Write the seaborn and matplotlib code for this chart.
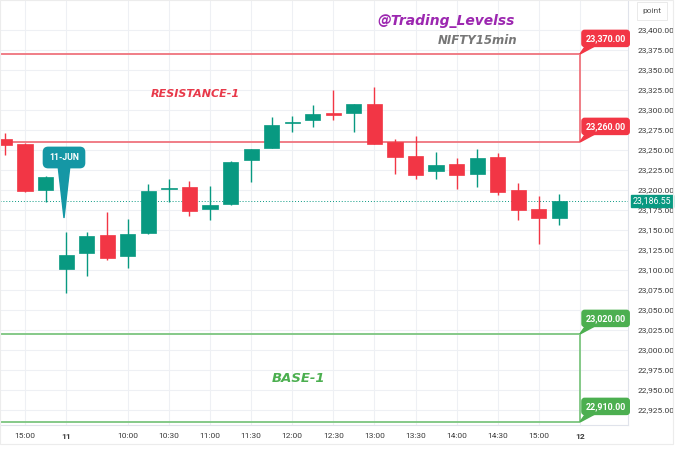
import matplotlib
matplotlib.use("Agg")
import matplotlib.pyplot as plt
from matplotlib.patches import Polygon, Rectangle
import seaborn as sns

# NIFTY 15min candles (14:45 on 10-Jun up to 15:15 on 11-Jun)
opens = [23263.75, 23257.5, 23200.0, 23101.25, 23121.25, 23143.75, 23117.5,
         23146.25, 23201.25, 23203.75, 23176.25, 23182.5, 23237.5, 23252.5,
         23283.75, 23287.5, 23296.25, 23296.25, 23307.5, 23260.0, 23242.5,
         23223.75, 23232.5, 23220.0, 23241.25, 23200.0, 23176.25, 23165.0]
highs = [23271.25, 23258.75, 23217.0, 23147.5, 23147.5, 23172.5, 23163.75,
         23207.5, 23213.75, 23211.25, 23205.0, 23236.25, 23251.25, 23291.25,
         23292.5, 23306.25, 23325.0, 23307.5, 23328.75, 23263.75, 23267.5,
         23247.5, 23240.0, 23251.25, 23246.25, 23208.75, 23192.5, 23195.0]
lows = [23243.75, 23198.0, 23185.0, 23071.25, 23092.5, 23112.5, 23102.5,
        23145.0, 23185.0, 23167.5, 23162.5, 23181.25, 23210.0, 23252.0,
        23272.5, 23278.75, 23287.5, 23272.5, 23257.5, 23220.0, 23213.75,
        23213.75, 23201.25, 23203.75, 23193.75, 23162.5, 23132.5, 23156.25]
closes = [23256.25, 23198.75, 23216.25, 23118.75, 23142.5, 23115.0, 23145.0,
          23198.75, 23202.5, 23173.75, 23181.25, 23235.0, 23251.25, 23281.25,
          23285.0, 23295.0, 23293.75, 23307.5, 23257.5, 23241.25, 23218.75,
          23231.25, 23218.75, 23240.0, 23197.5, 23175.0, 23165.0, 23186.55]

tick_pos = [1, 3, 6, 8, 10, 12, 14, 16, 18, 20, 22, 24, 26, 28]
tick_labels = ["15:00", "11", "10:00", "10:30", "11:00", "11:30", "12:00",
               "12:30", "13:00", "13:30", "14:00", "14:30", "15:00", "12"]

resistance = [23370.0, 23260.0]
base = [23020.0, 22910.0]
last_price = 23186.55
level_end = 28

up_col = "#089981"
down_col = "#f23645"
red_line = "#f07d86"
green_line = "#85c988"
green_box = "#4caf50"

sns.set_theme(style="white")
plt.rcParams['font.family'] = ['Roboto', 'DejaVu Sans']

fig = plt.figure(figsize=(6.8, 4.5), dpi=100)
ax = fig.add_axes([0, 1 - 425 / 450, 628 / 680, 425 / 450])

# grid first
yticks = [22925 + 25 * k for k in range(20)]
for y in yticks:
    ax.axhline(y, color="#eef0f4", lw=0.8, zorder=0)
for x in tick_pos:
    ax.axvline(x, color="#eef0f4", lw=0.8, zorder=0)

# candles
idx = list(range(len(opens)))
colors = [up_col if c >= o else down_col for o, c in zip(opens, closes)]
ax.vlines(idx, lows, highs, colors=colors, lw=1.0, zorder=3)
bottoms = [min(o, c) for o, c in zip(opens, closes)]
heights = [max(abs(c - o), 1.5) for o, c in zip(opens, closes)]
ax.bar(idx, heights, bottom=bottoms, width=0.74, color=colors,
       edgecolor=colors, linewidth=0.5, zorder=4)

# level boxes
ax.hlines(resistance, -1, level_end, colors=red_line, lw=1.4, zorder=2)
ax.vlines(level_end, resistance[1], resistance[0], colors=red_line, lw=1.4, zorder=2)
ax.hlines(base, -1, level_end, colors=green_line, lw=1.4, zorder=2)
ax.vlines(level_end, base[1], base[0], colors=green_line, lw=1.4, zorder=2)

for lvl, col in [(resistance[0], down_col), (resistance[1], down_col),
                 (base[0], green_box), (base[1], green_box)]:
    ax.add_patch(Polygon([(level_end, lvl), (level_end + 0.3, lvl + 11),
                          (level_end + 0.8, lvl + 11)], closed=True,
                         color=col, zorder=5, clip_on=False))
    ax.text(level_end + 1.25, lvl + 19.5, f"{lvl:,.2f}", ha="center", va="center",
            color="white", fontsize=6.4, fontweight="bold", zorder=6,
            bbox=dict(boxstyle="round,pad=0.4,rounding_size=0.3",
                      fc=col, ec=col))

# last price
ax.axhline(last_price, color=up_col, lw=0.7, ls=(0, (1, 2)), zorder=1)
ax.text(1.008, last_price, f"{last_price:,.2f}", transform=ax.get_yaxis_transform(),
        ha="left", va="center", color="white", fontsize=6.3, zorder=6,
        bbox=dict(boxstyle="square,pad=0.2", fc=up_col, ec=up_col),
        clip_on=False)

ax.set_xlim(-0.22, 30.34)
ax.set_ylim(22906.25, 23437.5)
ax.yaxis.tick_right()
ax.set_yticks(yticks)
ax.set_yticklabels([f"{y:,.2f}" for y in yticks])
ax.set_xticks(tick_pos)
ax.set_xticklabels(tick_labels)
for lab in ax.get_xticklabels():
    if lab.get_text() in ("11", "12"):
        lab.set_fontweight("bold")
ax.tick_params(axis="y", length=0, pad=7, labelsize=6, colors="#3a3a3a")
ax.tick_params(axis="x", length=0, pad=6, labelsize=6, colors="#3a3a3a")
for s in ["left", "top"]:
    ax.spines[s].set_visible(False)
for s in ["right", "bottom"]:
    ax.spines[s].set_color("#e0e3eb")
    ax.spines[s].set_linewidth(0.8)

# texts
fig.text(446 / 680, 1 - 21 / 450, "@Trading_Levelss", ha="center", va="center",
         color="#9c27b0", fontsize=10, fontweight="bold", style="italic",
         family="DejaVu Sans")
fig.text(478 / 680, 1 - 41 / 450, "NIFTY15min", ha="center", va="center",
         color="#777777", fontsize=8.5, fontweight="bold", style="italic",
         family="DejaVu Sans")
fig.text(195 / 680, 1 - 94 / 450, "RESISTANCE-1", ha="center", va="center",
         color="#e8394a", fontsize=8, fontweight="bold", style="italic",
         family="DejaVu Sans")
fig.text(299 / 680, 1 - 378 / 450, "BASE-1", ha="center", va="center",
         color="#4caf50", fontsize=9.5, fontweight="bold", style="italic",
         family="DejaVu Sans")

# 11-JUN callout
callout = "#1597a5"
fig.patches.append(Polygon([(58 / 680, 1 - 165 / 450), (70 / 680, 1 - 165 / 450),
                            (64 / 680, 1 - 218 / 450)], closed=True,
                           transform=fig.transFigure, color=callout, zorder=7))
fig.text(64 / 680, 1 - 157.5 / 450, "11-JUN", ha="center", va="center",
         color="white", fontsize=6.3, fontweight="bold", zorder=8,
         bbox=dict(boxstyle="round,pad=0.65,rounding_size=0.55", fc=callout, ec=callout))

fig.text(652 / 680, 1 - 11 / 450, "point", ha="center", va="center",
         color="#555555", fontsize=6,
         bbox=dict(boxstyle="square,pad=0.7", fc="white", ec="#e6e6e6", lw=0.6))

fig.patches.append(Rectangle((0, 1 - 444 / 450), 673 / 680, 444 / 450,
                             transform=fig.transFigure, fill=False,
                             ec="#ececec", lw=0.8))

fig.savefig("out.png", dpi=100)
